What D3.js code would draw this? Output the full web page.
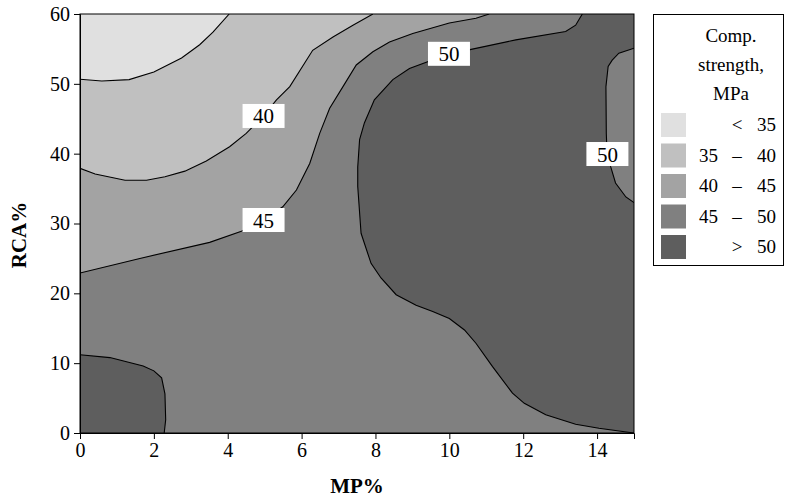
<!DOCTYPE html>
<html lang="en">
<head>
<meta charset="UTF-8">
<script src="https://cdn.jsdelivr.net/npm/d3@7"></script>
<title>Comp. strength contour</title>
<style>
  html,body{margin:0;background:#fff;}
</style>
</head>
<body>
<svg id="chart" width="787" height="498"></svg>
<script>
// axis ticks
var mpTicks = [0, 2, 4, 6, 8, 10, 12, 14];
var rcaTicks = [0, 10, 20, 30, 40, 50, 60];

// legend
var legendLo   = ["", "35", "40", "45", ""];
var legendSign = ["<", "–", "–", "–", ">"];
var legendHi   = ["35", "40", "45", "50", "50"];
var fills      = ["#e0e0e0", "#c0c0c0", "#a3a3a3", "#808080", "#5e5e5e"];

// contour lines, [MP%, RCA%]
var line35 = [[0,50.65],[0.59,50.4],[1.33,50.6],[2.0,51.7],[2.75,53.7],[3.24,55.6],[3.6,57.4],[4.04,60]];
var line40 = [[0,37.9],[0.41,37.1],[1.22,36.2],[1.8,36.2],[2.3,36.7],[2.84,37.5],[3.42,38.95],[4.05,41.0],
              [4.5,42.9],[4.97,45.4],[5.32,47.7],[5.68,49.6],[6.3,54.8],[6.85,56.7],[7.39,58.4],[7.93,60]];
var line45 = [[0,22.9],[1.62,25.0],[3.51,27.3],[4.37,28.9],[4.97,30.5],[5.49,32.4],[5.86,34.8],[6.22,38.6],
              [6.49,42.9],[6.76,46.5],[7.12,49.6],[7.48,52.7],[7.93,54.6],[8.38,56.0],[9.01,57.2],[10.0,58.7],
              [10.72,59.4],[11.08,60]];
var line50 = [[13.6,60],[13.42,58.4],[13.15,57.5],[11.8,56.3],[10.56,54.9],[9.97,54.3],[9.43,53.2],[8.92,52.2],
              [8.47,50.6],[7.97,47.7],[7.7,44.4],[7.57,42.0],[7.52,38.1],[7.52,35.3],[7.61,28.6],[7.88,24.3],
              [8.15,22.2],[8.56,19.8],[9.1,18.3],[9.55,17.4],[10.0,16.4],[10.41,14.75],[10.72,12.85],[11.17,9.5],
              [11.71,5.7],[12.03,4.25],[12.61,2.6],[13.42,1.25],[14.05,0.67],[15,0]];
var line50right = [[15,55.1],[14.59,54.4],[14.41,53.4],[14.3,52.5],[14.24,49.6],[14.25,42.9],[14.27,40.1],
                   [14.37,38.1],[14.5,35.8],[14.78,33.8],[15,33]];
var line50low = [[0,11.2],[0.81,10.8],[1.71,9.6],[2.0,8.9],[2.21,7.9],[2.3,5.6],[2.32,1.9],[2.28,0]];

// contour labels
var labelText = ["40", "45", "50", "50"];
var labelPos  = [[4.97,45.4],[4.97,30.5],[9.99,54.3],[14.28,39.95]];

var serif = "'Liberation Serif', 'Times New Roman', Times, serif";
var svg = d3.select("#chart").style("font-family", serif);
var pl = 80, pr = 634, pt = 14, pb = 433;   // plot box

var x = d3.scaleLinear().domain([0, 15]).range([pl, pr]);
var y = d3.scaleLinear().domain([0, 60]).range([pb, pt]);
var x0 = x.domain()[0], x1 = x.domain()[1], y0 = y.domain()[0], y1 = y.domain()[1];

var line = d3.line().x(function(d){ return x(d[0]); }).y(function(d){ return y(d[1]); });

svg.append("clipPath").attr("id", "clip")
  .append("rect").attr("x", pl).attr("y", pt).attr("width", pr - pl).attr("height", pb - pt);

var plot = svg.append("g").attr("clip-path", "url(#clip)");

// base: 45-50 everywhere, then paint the other bands on top
plot.append("rect").attr("x", pl).attr("y", pt).attr("width", pr - pl).attr("height", pb - pt)
  .attr("fill", fills[3]);

var regions = [
  [line45.concat([[x0, y1]]), fills[2]],
  [line40.concat([[x0, y1]]), fills[1]],
  [line35.concat([[x0, y1]]), fills[0]],
  [line50.concat([[x1, y1]]), fills[4]],
  [line50right, fills[3]],
  [line50low.concat([[x0, y0]]), fills[4]]
];
regions.forEach(function(r){
  plot.append("path").attr("d", line(r[0]) + "Z").attr("fill", r[1]);
});

[line35, line40, line45, line50, line50right, line50low].forEach(function(l){
  plot.append("path").attr("d", line(l)).attr("fill", "none").attr("stroke", "#000").attr("stroke-width", 1.1);
});

// label boxes
var lab = plot.selectAll(".lab").data(labelText).enter().append("g")
  .attr("transform", function(d, i){ return "translate(" + x(labelPos[i][0]) + "," + y(labelPos[i][1]) + ")"; });
lab.append("rect").attr("x", -21).attr("y", -12).attr("width", 42).attr("height", 24).attr("fill", "#fff");
lab.append("text").attr("text-anchor", "middle").attr("y", 7.5).style("font-size", "21px")
  .text(function(d){ return d; });

// frame
svg.append("rect").attr("x", pl).attr("y", pt).attr("width", pr - pl).attr("height", pb - pt)
  .attr("fill", "none").attr("stroke", "#000").attr("stroke-width", 1);

// axes
var gx = svg.append("g").attr("transform", "translate(0," + pb + ")")
  .call(d3.axisBottom(x).tickValues(mpTicks).tickFormat(d3.format("d")).tickSize(6).tickPadding(4));
var gy = svg.append("g").attr("transform", "translate(" + pl + ",0)")
  .call(d3.axisLeft(y).tickValues(rcaTicks).tickFormat(d3.format("d")).tickSize(6).tickPadding(4));
[gx, gy].forEach(function(g){
  g.attr("font-family", null).attr("font-size", null);
  g.selectAll("text").style("font-family", serif).style("font-size", "20px").attr("fill", "#000");
  g.selectAll("line, path").attr("stroke", "#000");
});

svg.append("text").attr("x", (pl + pr) / 2).attr("y", 493).attr("text-anchor", "middle")
  .style("font-size", "21px").style("font-weight", "bold").text("MP%");
svg.append("text").attr("transform", "translate(26,235) rotate(-90)").attr("text-anchor", "middle")
  .style("font-size", "21px").style("font-weight", "bold").text("RCA%");

// legend
var lg = svg.append("g").style("font-size", "19px");
lg.append("rect").attr("x", 653.5).attr("y", 14.5).attr("width", 130).attr("height", 251)
  .attr("fill", "#fff").attr("stroke", "#000");
["Comp.", "strength,", "MPa"].forEach(function(t, i){
  lg.append("text").attr("x", 731).attr("y", 42 + i * 29).attr("text-anchor", "middle").text(t);
});
var rows = lg.selectAll(".row").data(fills).enter().append("g")
  .attr("transform", function(d, i){ return "translate(0," + (113 + i * 30.5) + ")"; });
rows.append("rect").attr("x", 661).attr("width", 25).attr("height", 24).attr("fill", function(d){ return d; });
rows.append("text").attr("x", 699).attr("y", 18).text(function(d, i){ return legendLo[i]; });
rows.append("text").attr("x", 737).attr("y", 18).attr("text-anchor", "middle")
  .text(function(d, i){ return legendSign[i]; });
rows.append("text").attr("x", 776).attr("y", 18).attr("text-anchor", "end")
  .text(function(d, i){ return legendHi[i]; });
</script>
</body>
</html>
